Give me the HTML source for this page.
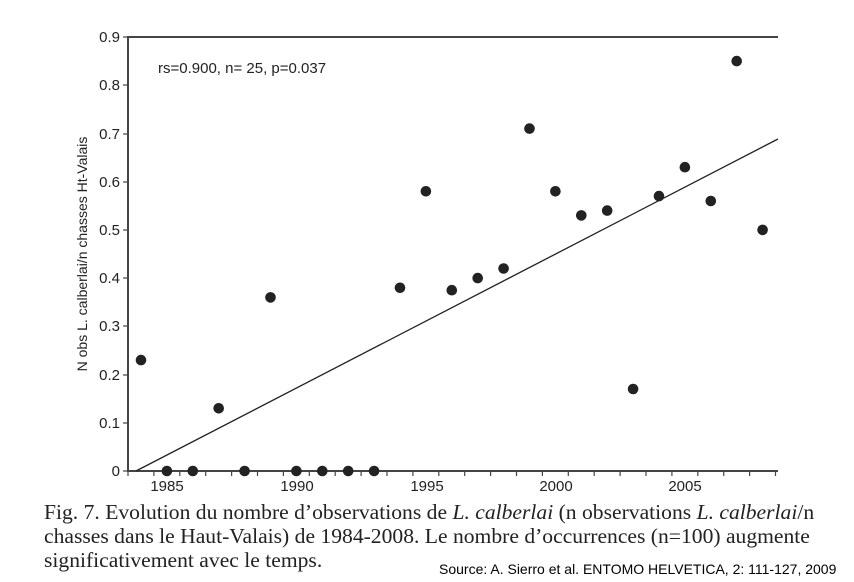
<!DOCTYPE html>
<html><head><meta charset="utf-8"><style>
body{margin:0;background:#fff;width:854px;height:582px;overflow:hidden;position:relative}
.cap{position:absolute;left:44px;top:500px;font-family:"Liberation Serif",serif;font-size:21.6px;line-height:24px;color:#222;width:810px;white-space:nowrap}
.src{position:absolute;left:439px;top:561px;font-family:"Liberation Sans",sans-serif;font-size:14px;color:#000}
</style></head><body>
<svg width="854" height="500" style="position:absolute;left:0;top:0" font-family="Liberation Sans, sans-serif" fill="#222">
<g stroke="#444" stroke-width="2" fill="none">
<line x1="128" y1="36" x2="128" y2="472"/>
<line x1="127" y1="37" x2="778" y2="37"/>
<line x1="127" y1="471" x2="778" y2="471"/>
</g>
<g stroke="#444" stroke-width="1.2">
<line x1="123" y1="37" x2="128" y2="37"/><line x1="123" y1="85" x2="128" y2="85"/><line x1="123" y1="134" x2="128" y2="134"/><line x1="123" y1="182" x2="128" y2="182"/><line x1="123" y1="230" x2="128" y2="230"/><line x1="123" y1="278" x2="128" y2="278"/><line x1="123" y1="326" x2="128" y2="326"/><line x1="123" y1="375" x2="128" y2="375"/><line x1="123" y1="423" x2="128" y2="423"/><line x1="123" y1="471" x2="128" y2="471"/>
</g>
<g id="xt" stroke="#444" stroke-width="1.2"></g>
<g font-size="15" text-anchor="end">
<text x="120" y="42">0.9</text><text x="120" y="90">0.8</text><text x="120" y="139">0.7</text><text x="120" y="187">0.6</text><text x="120" y="235">0.5</text><text x="120" y="283">0.4</text><text x="120" y="331">0.3</text><text x="120" y="380">0.2</text><text x="120" y="428">0.1</text><text x="120" y="476">0</text>
</g>
<g font-size="15" text-anchor="middle">
<text x="167" y="491">1985</text><text x="297" y="491">1990</text><text x="427" y="491">1995</text><text x="556" y="491">2000</text><text x="685" y="491">2005</text>
</g>
<text font-size="14" transform="translate(87,254) rotate(-90)" text-anchor="middle">N obs L. calberlai/n chasses Ht-Valais</text>
<text x="158" y="73" font-size="15">rs=0.900, n= 25, p=0.037</text>
<line x1="136" y1="471" x2="778" y2="139" stroke="#222" stroke-width="1.3"/>
<g fill="#222" id="pts"></g>
</svg>
<script>
var d=[.23,0,0,.13,0,.36,0,0,0,0,.38,.58,.375,.40,.42,.71,.58,.53,.54,.17,.57,.63,.56,.85,.50];
var g=document.getElementById('pts'),s='';
d.forEach(function(v,i){s+='<circle cx="'+(141+i*25.9).toFixed(1)+'" cy="'+(471-v*482.2).toFixed(1)+'" r="5.3"/>';});
g.innerHTML=s;
var t='';for(var k=0;k<26;k++){var x=128+k*25.9;t+='<line x1="'+x+'" y1="471" x2="'+x+'" y2="476"/>';}
document.getElementById('xt').innerHTML=t;
</script>
<div class="cap">Fig. 7. Evolution du nombre d’observations de <i>L. calberlai</i> (n observations <i>L. calberlai</i>/n<br>chasses dans le Haut-Valais) de 1984-2008. Le nombre d’occurrences (n=100) augmente<br>significativement avec le temps.</div>
<div class="src">Source: A. Sierro et al. ENTOMO HELVETICA, 2: 111-127, 2009</div>
</body></html>
